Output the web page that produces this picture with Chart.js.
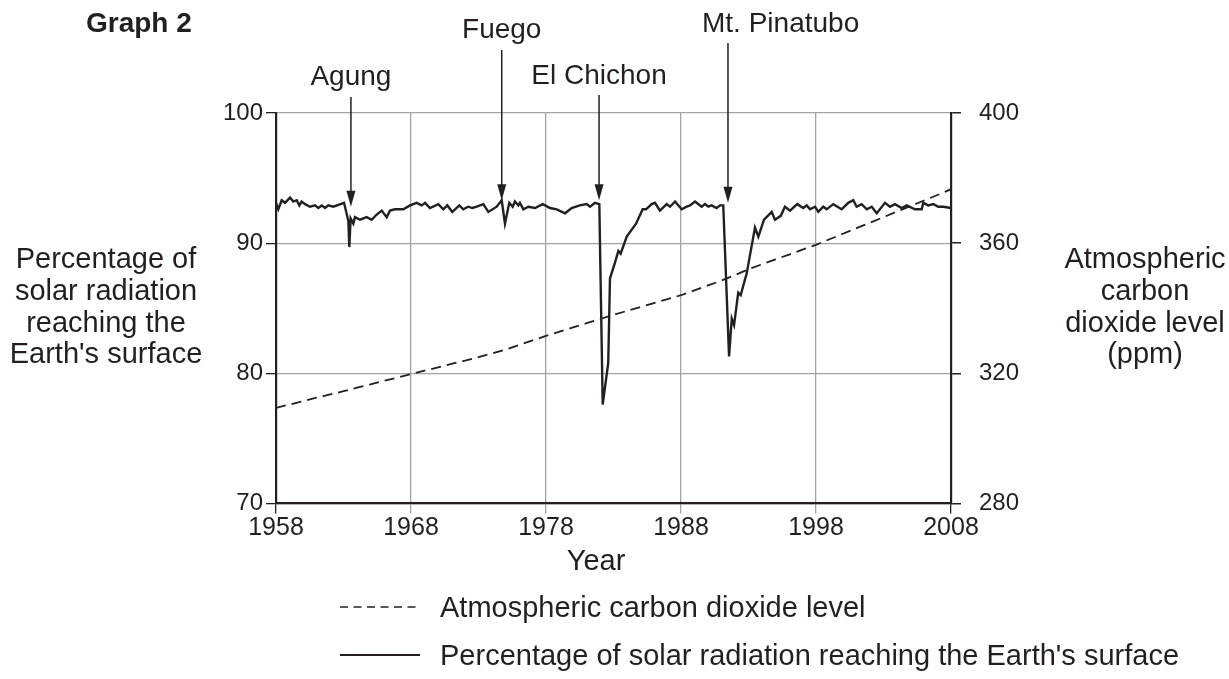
<!DOCTYPE html>
<html>
<head>
<meta charset="utf-8">
<script src="https://cdn.jsdelivr.net/npm/chart.js@4/dist/chart.umd.min.js"></script>
<style>
  html, body { margin: 0; padding: 0; background: #ffffff; }
  #c { display: block; }
</style>
</head>
<body>
<canvas id="c" width="1229" height="679"></canvas>
<script>
// ---- data ----
const xTickYears = [1958, 1968, 1978, 1988, 1998, 2008];
const leftTicks = [70, 80, 90, 100];
const rightTicks = [280, 320, 360, 400];

const solarYears = [
  1958.00, 1958.17, 1958.42, 1958.67, 1959.04, 1959.28, 1959.53, 1959.73, 1959.90, 1960.15,
  1960.52, 1960.89, 1961.13, 1961.39, 1961.63, 1961.87, 1962.24, 1963.04, 1963.36, 1963.43,
  1963.53, 1963.73, 1963.85, 1964.22, 1964.72, 1965.09, 1965.46, 1965.83, 1966.20, 1966.44,
  1966.81, 1967.43, 1967.93, 1968.42, 1968.79, 1969.04, 1969.41, 1970.02, 1970.39, 1970.69,
  1971.06, 1971.58, 1971.87, 1972.24, 1972.54, 1972.87, 1973.36, 1973.73, 1974.35, 1974.72,
  1974.96, 1975.28, 1975.53, 1975.70, 1975.95, 1976.07, 1976.32, 1976.69, 1977.19, 1977.76,
  1978.30, 1978.79, 1979.41, 1979.90, 1980.50, 1981.01, 1981.26, 1981.63, 1981.95, 1982.20,
  1982.61, 1982.74, 1983.11, 1983.36, 1983.53, 1983.98, 1984.67, 1985.16, 1985.41, 1985.83,
  1986.07, 1986.44, 1986.94, 1987.19, 1987.56, 1988.05, 1988.42, 1988.67, 1989.04, 1989.53,
  1989.78, 1990.02, 1990.27, 1990.64, 1990.89, 1991.13, 1991.56, 1991.76, 1991.93, 1992.24,
  1992.42, 1992.87, 1993.48, 1993.73, 1994.15, 1994.72, 1994.96, 1995.39, 1995.70, 1996.07,
  1996.61, 1997.06, 1997.31, 1997.56, 1997.93, 1998.17, 1998.54, 1998.79, 1999.28, 1999.90,
  2000.39, 2000.76, 2001.01, 2001.38, 2001.76, 2002.13, 2002.50, 2003.11, 2003.48, 2003.85,
  2004.35, 2004.71, 2005.33, 2005.83, 2005.95, 2006.32, 2006.69, 2007.06, 2007.43, 2008.00
];
const solarValues = [
  93.1, 92.6, 93.3, 93.1, 93.5, 93.2, 93.3, 92.9, 93.2, 93.0,
  92.8, 92.9, 92.7, 92.9, 92.7, 92.9, 92.8, 93.1, 91.7, 89.7,
  91.9, 91.5, 92.0, 91.8, 92.0, 91.8, 92.2, 92.5, 92.0, 92.5,
  92.6, 92.6, 92.9, 93.1, 92.9, 93.1, 92.7, 93.0, 92.6, 92.9,
  92.4, 92.9, 92.6, 92.8, 92.7, 92.8, 93.0, 92.4, 92.8, 93.3,
  91.5, 93.1, 92.8, 93.2, 92.9, 93.1, 92.6, 92.8, 92.7, 93.0,
  92.7, 92.6, 92.3, 92.7, 92.9, 93.0, 92.8, 93.1, 93.0, 77.6,
  80.8, 87.3, 88.5, 89.4, 89.2, 90.5, 91.5, 92.6, 92.6, 93.0,
  93.1, 92.5, 93.0, 92.8, 93.2, 92.6, 92.8, 92.9, 93.2, 92.8,
  93.0, 92.8, 92.9, 92.7, 92.9, 92.9, 81.3, 84.2, 83.7, 86.2,
  86.0, 87.7, 91.2, 90.5, 91.8, 92.4, 91.8, 92.1, 92.8, 92.5,
  93.0, 92.7, 92.9, 92.6, 92.8, 92.4, 92.8, 92.6, 93.0, 92.6,
  93.1, 93.3, 92.8, 93.0, 92.6, 92.8, 92.3, 93.1, 92.8, 93.0,
  92.7, 92.9, 92.6, 92.6, 93.1, 92.9, 93.0, 92.8, 92.8, 92.7
];

const co2Years = [
  1958, 1959, 1960, 1961, 1962, 1963, 1964, 1965, 1966, 1967,
  1968, 1969, 1970, 1971, 1972, 1973, 1974, 1975, 1976, 1977,
  1978, 1979, 1980, 1981, 1982, 1983, 1984, 1985, 1986, 1987,
  1988, 1989, 1990, 1991, 1992, 1993, 1994, 1995, 1996, 1997,
  1998, 1999, 2000, 2001, 2002, 2003, 2004, 2005, 2006, 2007, 2008
];
const co2Values = [
  309.4, 310.4, 311.4, 312.5, 313.5, 314.5, 315.6, 316.6, 317.7, 318.7,
  319.8, 320.8, 321.8, 322.9, 323.9, 325.0, 326.1, 327.3, 328.7, 330.1,
  331.5, 332.8, 334.1, 335.4, 336.7, 338.0, 339.2, 340.4, 341.6, 342.8,
  344.0, 345.5, 347.0, 348.5, 350.2, 352.0, 353.5, 355.0, 356.5, 358.0,
  359.5, 361.2, 362.9, 364.6, 366.3, 368.0, 369.7, 371.4, 373.1, 374.8, 376.6
];

const eruptionNames = ["Agung", "Fuego", "El Chichon", "Mt. Pinatubo"];
const eruptionYears = [1963.55, 1974.72, 1981.93, 1991.48];
const eruptionTipValues = [92.8, 93.3, 93.3, 93.1];

const seriesLabels = ["Atmospheric carbon dioxide level",
                      "Percentage of solar radiation reaching the Earth's surface"];

// ---- styling ----
const INK = '#231f20';
const GRID = '#a3a3a3';
const FONT = '"Liberation Sans", Arial, Helvetica, sans-serif';

const annotationPlugin = {
  id: 'annotations',
  afterDraw(chart) {
    const c = chart.ctx;
    const xs = chart.scales.x, ys = chart.scales.y;
    c.save();
    c.fillStyle = INK;
    c.strokeStyle = INK;

    // title
    c.font = 'bold 28px ' + FONT;
    c.textAlign = 'left';
    c.textBaseline = 'alphabetic';
    c.fillText('Graph 2', 86, 32);

    // eruption labels + arrows
    const layout = [
      { textX: null, baseline: 85, start: 97 },
      { textX: null, baseline: 38, start: 50 },
      { textX: null, baseline: 84, start: 95 },
      { textX: 702, baseline: 32, start: 43 }
    ];
    c.font = '28px ' + FONT;
    eruptionNames.forEach((name, i) => {
      const px = xs.getPixelForValue(eruptionYears[i]);
      const tip = ys.getPixelForValue(eruptionTipValues[i]);
      const L = layout[i];
      if (L.textX === null) { c.textAlign = 'center'; c.fillText(name, px, L.baseline); }
      else { c.textAlign = 'left'; c.fillText(name, L.textX, L.baseline); }
      c.lineWidth = 1.5;
      c.beginPath();
      c.moveTo(px, L.start);
      c.lineTo(px, tip - 12);
      c.stroke();
      c.beginPath();
      c.moveTo(px - 4.5, tip - 16);
      c.lineTo(px + 4.5, tip - 16);
      c.lineTo(px, tip);
      c.closePath();
      c.fill();
    });

    // axis titles
    c.font = '29px ' + FONT;
    c.textAlign = 'center';
    const leftLines = ['Percentage of', 'solar radiation', 'reaching the', "Earth's surface"];
    const rightLines = ['Atmospheric', 'carbon', 'dioxide level', '(ppm)'];
    const baselines = [268, 300, 332, 363];
    leftLines.forEach((t, i) => c.fillText(t, 106, baselines[i]));
    rightLines.forEach((t, i) => c.fillText(t, 1145, baselines[i]));
    c.fillText('Year', 596, 570);

    // legend
    c.lineWidth = 1.6;
    c.setLineDash([8, 5.5]);
    c.beginPath(); c.moveTo(340, 607); c.lineTo(420, 607); c.stroke();
    c.setLineDash([]);
    c.lineWidth = 2.2;
    c.beginPath(); c.moveTo(340, 655); c.lineTo(420, 655); c.stroke();
    c.textAlign = 'left';
    c.fillText(seriesLabels[0], 440, 617);
    c.fillText(seriesLabels[1], 440, 665);
    c.restore();
  }
};

const ctx = document.getElementById('c').getContext('2d');
new Chart(ctx, {
  type: 'line',
  data: {
    datasets: [
      {
        label: seriesLabels[1],
        data: solarYears.map((x, i) => ({ x: x, y: solarValues[i] })),
        yAxisID: 'y',
        borderColor: INK,
        borderWidth: 2.4,
        pointRadius: 0,
        tension: 0,
        fill: false
      },
      {
        label: seriesLabels[0],
        data: co2Years.map((x, i) => ({ x: x, y: co2Values[i] })),
        yAxisID: 'y2',
        borderColor: INK,
        borderWidth: 1.8,
        borderDash: [10, 6],
        pointRadius: 0,
        tension: 0,
        fill: false
      }
    ]
  },
  options: {
    responsive: false,
    animation: false,
    events: [],
    layout: { padding: { top: 113, left: 0, right: 0, bottom: 0 } },
    plugins: { legend: { display: false }, tooltip: { enabled: false }, title: { display: false } },
    scales: {
      x: {
        type: 'linear',
        min: 1958, max: 2008,
        afterBuildTicks: s => { s.ticks = xTickYears.map(v => ({ value: v })); },
        ticks: {
          callback: v => String(v),
          font: { family: FONT, size: 25 },
          color: INK,
          padding: 0,
          maxRotation: 0,
          autoSkip: false
        },
        grid: {
          color: GRID,
          lineWidth: 1.3,
          tickLength: 10,
          tickColor: c => (c.tick && (c.tick.value === 1958 || c.tick.value === 2008)) ? INK : GRID
        },
        border: { color: INK, width: 2.2 },
        afterFit: s => { s.height = 679 - 503.5; }
      },
      y: {
        position: 'left',
        min: 70, max: 100,
        afterBuildTicks: s => { s.ticks = leftTicks.map(v => ({ value: v })); },
        ticks: {
          font: { family: FONT, size: 24 },
          color: INK,
          padding: 3
        },
        grid: { color: GRID, lineWidth: 1.3, tickLength: 10, tickColor: INK },
        border: { color: INK, width: 2.2 },
        afterFit: s => { s.width = 276; }
      },
      y2: {
        position: 'right',
        min: 280, max: 400,
        afterBuildTicks: s => { s.ticks = rightTicks.map(v => ({ value: v })); },
        ticks: {
          font: { family: FONT, size: 24 },
          color: INK,
          padding: 18
        },
        grid: { drawOnChartArea: false, tickLength: 10, tickColor: INK, lineWidth: 1.5 },
        border: { color: INK, width: 2.2 },
        afterFit: s => { s.width = 1229 - 951; }
      }
    }
  },
  plugins: [annotationPlugin]
});
</script>
</body>
</html>
